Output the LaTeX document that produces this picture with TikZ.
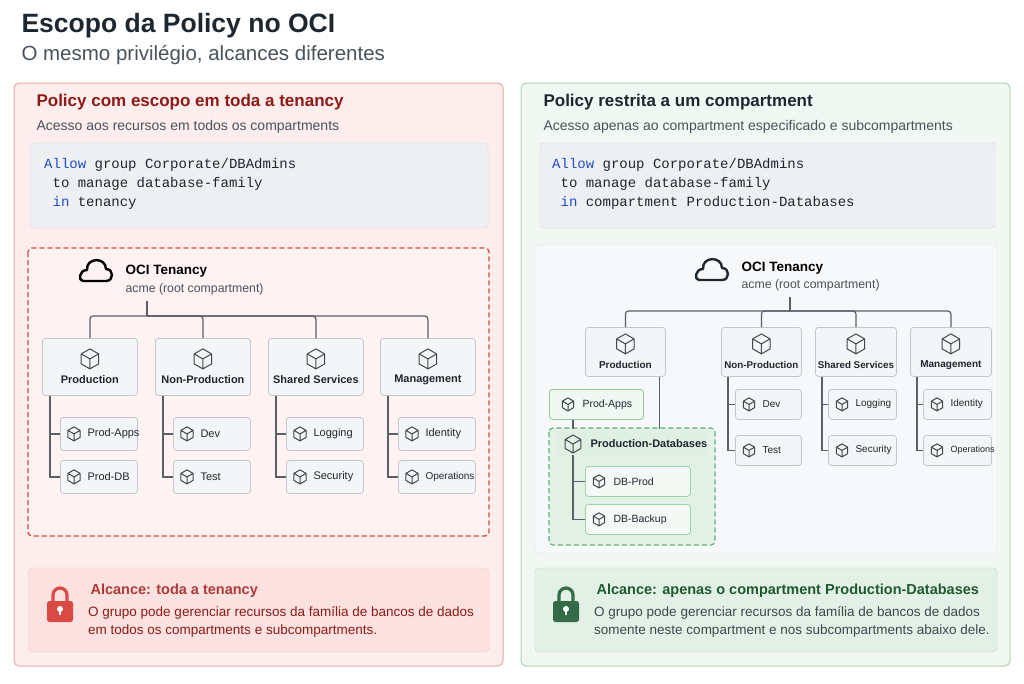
\documentclass[tikz,border=0pt]{standalone}
\usepackage{fontspec}
\setmainfont{Liberation Sans}
\setmonofont{Liberation Mono}
\usetikzlibrary{calc}
\definecolor{lpink}{HTML}{FDEDEC}
\definecolor{lpinkb}{HTML}{EBA8A5}
\definecolor{dred}{HTML}{8E1B17}
\definecolor{lred}{HTML}{D94A44}
\definecolor{bpink}{HTML}{FBE1DF}
\definecolor{lgreen}{HTML}{F1F7F2}
\definecolor{lgreenb}{HTML}{AFD3B8}
\definecolor{dgreen}{HTML}{1F5A33}
\definecolor{mgreen}{HTML}{5FB274}
\definecolor{bgreen}{HTML}{E2F0E5}
\definecolor{codebg}{HTML}{EEEFF2}
\definecolor{boxbg}{HTML}{F4F5F7}
\definecolor{boxbd}{HTML}{C3C7CD}
\definecolor{ink}{HTML}{1E2730}
\definecolor{gray}{HTML}{4A525B}
\definecolor{kw}{HTML}{1F4FC4}
\definecolor{linec}{HTML}{5A6068}
\tikzset{
  x=1pt,y=-1pt,
  box/.style={draw=boxbd,fill=boxbg,rounded corners=3pt,line width=0.8pt,anchor=north west,inner sep=0},
  tree/.style={draw=linec,line width=1.2pt},
  tl/.style={font=\fontsize{10.5}{12}\selectfont\bfseries,text=ink},
  cl/.style={font=\fontsize{10}{12}\selectfont,text=ink,anchor=west},
  cube/.pic={\draw[line width=1pt,line join=round,draw=ink!85] (0,-1)--(0.87,-0.5)--(0.87,0.5)--(0,1)--(-0.87,0.5)--(-0.87,-0.5)--cycle (-0.87,-0.5)--(0,0)--(0.87,-0.5) (0,0)--(0,1);},
  lock/.pic={\draw[line width=3.2pt,draw=#1] (-7,0)--(-7,-7) arc(180:360:7) --(7,0);
     \fill[#1,rounded corners=2.5pt] (-13,-1) rectangle (13,20);
     \fill[white] (0,7) circle(3); \fill[white] (-1.3,7) rectangle (1.3,13);},
  cloudic/.pic={\draw[line width=2.4pt,line join=round,draw=#1] (-12,9)--(11,9) .. controls (19,9) and (19,-3) .. (11,-3) .. controls (11,-15) and (-9,-15) .. (-8,-2) .. controls (-16,-2) and (-17,9) .. (-12,9) -- cycle;},
}
\newcommand\tbox[7]{% name x y w h label fontsize
  \node[box,minimum width=#4pt,minimum height=#5pt] (#1) at (#2,#3) {};
  \pic[scale=10] at ($(#1.center)+(0,-8)$) {cube};
  \node[tl,font=\fontsize{#7}{12}\selectfont\bfseries] (#1-t) at ($(#1.center)+(0,13)$) {#6};}
\newcommand\chbox[8]{% name x y w h label scale fontsize
  \node[box,minimum width=#4pt,minimum height=#5pt] (#1) at (#2,#3) {};
  \pic[scale=#7] at ($(#1.west)+(14,0)$) {cube};
  \node[cl,font=\fontsize{#8}{12}\selectfont] (#1-t) at ($(#1.west)+(24,0)$) {#6};}
\begin{document}
\begin{tikzpicture}
\useasboundingbox (0,0) rectangle (1024,683);
\fill[white] (0,0) rectangle (1024,683);
\node[anchor=west,font=\fontsize{26.5}{30}\selectfont\bfseries,text=ink] (title) at (18,26) {Escopo da Policy no OCI};
\node[anchor=west,font=\fontsize{20.5}{24}\selectfont,text=gray] (sub) at (18,55) {O mesmo privilégio, alcances diferentes};
% ===== LEFT =====
\draw[fill=lpink,draw=lpinkb,rounded corners=5pt,line width=1pt] (14,83) rectangle (503,666);
\node[anchor=west,font=\fontsize{17}{19}\selectfont\bfseries,text=dred] (lt) at (33,102) {Policy com escopo em toda a tenancy};
\node[anchor=west,font=\fontsize{14}{16}\selectfont,text=gray] (ls) at (33,127) {Acesso aos recursos em todos os compartments};
\draw[fill=codebg,draw=boxbd!70,rounded corners=3pt] (30,143) rectangle (488,228);
\node[anchor=north west,align=left,font=\fontsize{14}{19}\selectfont\ttfamily,text=ink,inner sep=0] (lcode) at (44,158) {\textcolor{kw}{Allow} group Corporate/DBAdmins\\ \ to manage database-family\\ \ \textcolor{kw}{in} tenancy};
\draw[draw=lred,dash pattern=on 5pt off 3pt,line width=1.3pt,rounded corners=4pt,fill=lpink!70!white] (28,248) rectangle (489,536);
\pic at (95,272) {cloudic=black};
\node[anchor=west,font=\fontsize{13.5}{15}\selectfont\bfseries,text=black] (lten) at (122,271) {OCI Tenancy};
\node[anchor=west,font=\fontsize{12.3}{14}\selectfont,text=gray] (lacme) at (122,289) {acme (root compartment)};
\coordinate (lroot) at (147,301); \coordinate (lbus) at (147,316);
\tbox{lp}{42}{338}{95}{57}{Production}{11}
\tbox{ln}{155}{338}{95}{57}{Non-Production}{11}
\tbox{lsh}{268}{338}{95}{57}{Shared Services}{11}
\tbox{lm}{380}{338}{95}{57}{Management}{11}
\draw[tree] (lroot)--(lbus);
\foreach \n in {lp,ln,lsh,lm} \draw[tree,rounded corners=3pt] (\n.north) |- (lbus);
\chbox{lpa}{60}{417}{77}{33}{Prod-Apps}{7}{11}
\chbox{lpb}{60}{460}{77}{33}{Prod-DB}{7}{11}
\chbox{lna}{173}{417}{77}{33}{Dev}{7}{11}
\chbox{lnb}{173}{460}{77}{33}{Test}{7}{11}
\chbox{lsa}{286}{417}{77}{33}{Logging}{7}{11}
\chbox{lsb}{286}{460}{77}{33}{Security}{7}{11}
\chbox{lma}{398}{417}{77}{33}{Identity}{7}{11}
\chbox{lmb}{398}{460}{77}{33}{Operations}{7}{10}
\foreach \p/\a/\b in {lp/lpa/lpb,ln/lna/lnb,lsh/lsa/lsb,lm/lma/lmb}{
  \draw[tree] ($(\p.south west)+(8,0)$) |- (\a.west);
  \draw[tree] ($(\p.south west)+(8,0)$) |- (\b.west);}
\draw[fill=bpink,draw=lpinkb!60,rounded corners=4pt] (28,568) rectangle (489,652);
\pic at (60,602) {lock=lred};
\node[anchor=west,font=\fontsize{14.5}{17}\selectfont\bfseries,text=lred!80!black] (lat) at (87,591) {Alcance: toda a tenancy};
\node[anchor=north west,align=left,inner sep=0,font=\fontsize{13.5}{18}\selectfont,text=dred] (lad) at (88,606) {O grupo pode gerenciar recursos da família de bancos de dados\\em todos os compartments e subcompartments.};
% ===== RIGHT =====
\draw[fill=lgreen,draw=lgreenb,rounded corners=5pt,line width=1pt] (521,83) rectangle (1010,666);
\node[anchor=west,font=\fontsize{17}{19}\selectfont\bfseries,text=ink] (rt) at (540,102) {Policy restrita a um compartment};
\node[anchor=west,font=\fontsize{14}{16}\selectfont,text=gray] (rs) at (540,127) {Acesso apenas ao compartment especificado e subcompartments};
\draw[fill=codebg,draw=boxbd!70,rounded corners=3pt] (540,143) rectangle (995,228);
\node[anchor=north west,align=left,font=\fontsize{14}{19}\selectfont\ttfamily,text=ink,inner sep=0] (rcode) at (552,158) {\textcolor{kw}{Allow} group Corporate/DBAdmins\\ \ to manage database-family\\ \ \textcolor{kw}{in} compartment Production-Databases};
\draw[fill=boxbg!70!white,draw=boxbd!50,rounded corners=4pt] (535,245) rectangle (997,553);
\pic at (711,271) {cloudic=ink};
\node[anchor=west,font=\fontsize{13.5}{15}\selectfont\bfseries,text=black] (rten) at (738,268) {OCI Tenancy};
\node[anchor=west,font=\fontsize{12.3}{14}\selectfont,text=gray] (racme) at (738,285) {acme (root compartment)};
\coordinate (rroot) at (790,297); \coordinate (rbus) at (790,311);
\tbox{rp}{585}{327}{80}{49}{Production}{10}
\tbox{rn}{721}{327}{80}{49}{Non-Production}{9.8}
\tbox{rsh}{815}{327}{81}{49}{Shared Services}{9.8}
\tbox{rm}{910}{327}{81}{49}{Management}{10}
\draw[tree] (rroot)--(rbus);
\foreach \n in {rp,rn,rsh,rm} \draw[tree,rounded corners=3pt] (\n.north) |- (rbus);
\chbox{rna}{735}{389}{66}{30}{Dev}{6.5}{10}
\chbox{rnb}{735}{435}{66}{30}{Test}{6.5}{10}
\chbox{rsa}{828}{389}{68}{30}{Logging}{6.5}{10}
\chbox{rsb}{828}{435}{68}{30}{Security}{6.5}{10}
\chbox{rma}{923}{389}{68}{30}{Identity}{6.5}{10}
\chbox{rmb}{923}{435}{68}{30}{Operations}{6.5}{9}
\foreach \p/\a/\b in {rn/rna/rnb,rsh/rsa/rsb,rm/rma/rmb}{
  \draw[tree] ($(\p.south west)+(7,0)$) |- (\a.west);
  \draw[tree] ($(\p.south west)+(7,0)$) |- (\b.west);}
% production subtree
\node[box,draw=mgreen!70,fill=lgreen,minimum width=94pt,minimum height=30pt] (rpa) at (549,389) {};
\pic[scale=6.5] at ($(rpa.west)+(19,0)$) {cube};
\node[cl,font=\fontsize{10.5}{12}\selectfont] (rpa-t) at ($(rpa.west)+(30,0)$) {Prod-Apps};
\draw[draw=mgreen,dash pattern=on 5pt off 3pt,line width=1.2pt,rounded corners=4pt,fill=bgreen] (549,428) rectangle (715,545);
\node[anchor=north west,inner sep=0] (rdb) at (549,428) {};
\fill[mgreen!20,rounded corners=3pt] (557,432) rectangle (706,457);
\draw[tree] ($(rp.south east)+(-6,0)$) -- ($(rp.south east)+(-6,52)$);
\draw[tree] ($(rpa.south west)+(24,0)$) -- ++(0,9);
\pic[scale=9] at (573,444) {cube};
\node[anchor=west,font=\fontsize{11}{13}\selectfont\bfseries,text=ink] (rdb-t) at (587,444) {Production-Databases};
\node[box,draw=mgreen!60,fill=lgreen!70!white,minimum width=105pt,minimum height=30pt] (rda) at (585,466) {};
\pic[scale=6.5] at ($(rda.west)+(14,0)$) {cube};
\node[cl,font=\fontsize{10.5}{12}\selectfont] (rda-t) at ($(rda.west)+(25,0)$) {DB-Prod};
\node[box,draw=mgreen!60,fill=lgreen!70!white,minimum width=105pt,minimum height=30pt] (rdbk) at (585,504) {};
\pic[scale=6.5] at ($(rdbk.west)+(14,0)$) {cube};
\node[cl,font=\fontsize{10.5}{12}\selectfont] (rdbk-t) at ($(rdbk.west)+(25,0)$) {DB-Backup};
\coordinate (rdbroot) at (573,455);
\draw[tree] (rdbroot) |- (rda.west);
\draw[tree] (rdbroot) |- (rdbk.west);
\draw[fill=bgreen,draw=lgreenb!80,rounded corners=4pt] (535,568) rectangle (997,652);
\pic at (566,602) {lock=dgreen!90};
\node[anchor=west,font=\fontsize{14.5}{17}\selectfont\bfseries,text=dgreen] (rat) at (593,591) {Alcance: apenas o compartment Production-Databases};
\node[anchor=north west,align=left,inner sep=0,font=\fontsize{13.5}{18}\selectfont,text=ink!85] (rad) at (594,606) {O grupo pode gerenciar recursos da família de bancos de dados\\somente neste compartment e nos subcompartments abaixo dele.};
\end{tikzpicture}
\end{document}
